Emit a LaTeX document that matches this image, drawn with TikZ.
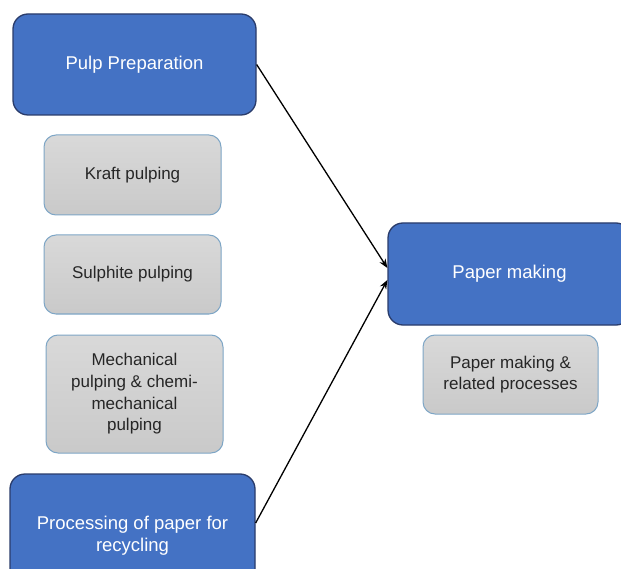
\documentclass[tikz,border=0pt]{standalone}
\usepackage{fontspec}
\setmainfont{Liberation Sans}
\usetikzlibrary{arrows.meta}
\definecolor{bluefill}{HTML}{4472C4}
\definecolor{blueedge}{HTML}{2A3C6B}
\definecolor{grayedge}{HTML}{7EA6C6}
\begin{document}
\begin{tikzpicture}[x=1pt,y=-1pt,
  bluebox/.style={draw=blueedge, line width=1.3pt, fill=bluefill, rounded corners=15pt,
    text=white, align=center, inner sep=0pt, font=\fontsize{18.5}{22}\selectfont,
    minimum width=243pt},
  graybox/.style={draw=grayedge, line width=1pt, top color=gray!30, bottom color=gray!42,
    rounded corners=12pt, text=black!85, align=center, inner sep=0pt,
    font=\fontsize{17}{21.7}\selectfont, minimum width=177pt},
  conn/.style={-{Stealth[length=9pt,width=7pt]}, line width=1.3pt, black}]
\useasboundingbox (0,0) rectangle (621,569);
\fill[white] (0,0) rectangle (621,569);
\node[bluebox, minimum height=101pt] (pulp) at (134.5,64.5) {Pulp Preparation};
\node[graybox, minimum height=80pt] (kraft) at (132.5,175) {Kraft pulping};
\node[graybox, minimum height=79pt] (sulph) at (132.5,274.5) {Sulphite pulping};
\node[graybox, minimum height=118pt] (mech) at (134.5,394) {Mechanical\\pulping \& chemi-\\mechanical\\pulping};
\node[bluebox, minimum width=245pt, minimum height=124pt] (proc) at (132.5,536) {Processing of paper for\\recycling};
\node[bluebox, minimum height=102pt] (paper) at (509.5,274) {Paper making};
\node[graybox, minimum width=175pt, minimum height=79pt] (rel) at (510.5,374.5) {Paper making \&\\related processes};
\draw[conn] (pulp.east) -- ([yshift=6pt]paper.west);
\draw[conn] ([yshift=13pt]proc.east) -- ([yshift=-6pt]paper.west);
\end{tikzpicture}
\end{document}
